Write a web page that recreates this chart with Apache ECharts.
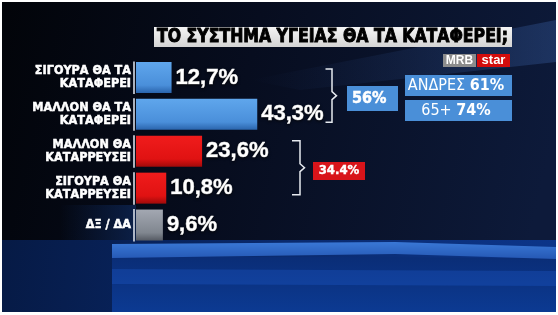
<!DOCTYPE html>
<html>
<head>
<meta charset="utf-8">
<script src="https://cdn.jsdelivr.net/npm/echarts@6/dist/echarts.min.js"></script>
<style>
html,body{margin:0;padding:0;background:#ffffff;}
#chart{width:558px;height:315px;}
</style>
</head>
<body>
<div id="chart"></div>
<script>
// ---- data ----
const categories = [
  'ΣΙΓΟΥΡΑ ΘΑ ΤΑ\nΚΑΤΑΦΕΡΕΙ',
  'ΜΑΛΛΟΝ ΘΑ ΤΑ\nΚΑΤΑΦΕΡΕΙ',
  'ΜΑΛΛΟΝ ΘΑ\nΚΑΤΑΡΡΕΥΣΕΙ',
  'ΣΙΓΟΥΡΑ ΘΑ\nΚΑΤΑΡΡΕΥΣΕΙ',
  'ΔΞ / ΔΑ'
];
const values = [12.7, 43.3, 23.6, 10.8, 9.6];
const groups = ['yes', 'yes', 'no', 'no', 'dk'];
const title = 'ΤΟ ΣΥΣΤΗΜΑ ΥΓΕΙΑΣ ΘΑ ΤΑ ΚΑΤΑΦΕΡΕΙ;';
const totalYes = '56%';
const totalNo = '34.4%';
const demoLabels = ['ΑΝΔΡΕΣ ', '65+ '];
const demoValues = ['61%', '74%'];

// ---- styles ----
const grad = (a, b, c) => new echarts.graphic.LinearGradient(0, 0, 0, 1, [
  {offset: 0, color: a}, {offset: 0.75, color: b}, {offset: 1, color: c}]);
const groupColor = {
  yes: grad('#5fa6ec', '#4a8fda', '#2a64ac'),
  no: grad('#f01c1c', '#e01212', '#a00a0a'),
  dk: grad('#a3a8b2', '#80868f', '#555a63')
};
const BLUE = '#4a8fd8', RED = '#d8141a';
const narrow = "'Liberation Sans Narrow','DejaVu Sans Condensed',sans-serif";

const chart = echarts.init(document.getElementById('chart'), null, {renderer: 'canvas'});

function fitScale(text, font, target) {
  const c = document.createElement('canvas').getContext('2d');
  c.font = font;
  const w = c.measureText(text).width;
  return w > 0 ? target / w : 1;
}

const titleFont = "bold 19px 'Liberation Sans Narrow','DejaVu Sans Condensed',sans-serif";
const titleScale = fitScale(title, titleFont, 351);

const option = {
  animation: false,
  backgroundColor: '#ffffff',
  grid: {left: 136, top: 59, width: 280, height: 184.5, containLabel: false},
  xAxis: {type: 'value', min: 0, max: 100, show: false},
  yAxis: {
    type: 'category', data: categories, inverse: true,
    axisLine: {show: false}, axisTick: {show: false}, splitLine: {show: false},
    axisLabel: {
      color: '#ffffff', fontWeight: 'bold', fontSize: 12.5, lineHeight: 13.5,
      fontFamily: narrow, align: 'right', margin: 5,
      textBorderColor: '#ffffff', textBorderWidth: 0.5
    }
  },
  series: [
    {
      type: 'bar', barWidth: 31, z: 3,
      data: values.map((v, i) => ({value: v, itemStyle: {color: groupColor[groups[i]]}})),
      label: {
        show: true, position: 'right', distance: 4,
        formatter: p => p.value.toFixed(1).replace('.', ',') + '%',
        color: '#ffffff', fontWeight: 'bold', fontSize: 22,
        fontFamily: "'Liberation Sans',Arial,sans-serif",
        textBorderColor: '#ffffff', textBorderWidth: 0.6,
        textShadowColor: 'rgba(0,0,0,0.7)', textShadowBlur: 3, textShadowOffsetY: 1
      }
    },
    {
      type: 'custom', z: 4,
      data: categories.map((c, i) => [0, i]),
      encode: {x: 0, y: 1},
      renderItem: (params, api) => {
        const p = api.coord([0, api.value(1)]);
        return {
          type: 'line',
          shape: {x1: p[0] - 2, y1: p[1] - 16, x2: p[0] - 2, y2: p[1] + 16.5},
          style: {stroke: '#d8dee8', lineWidth: 1.6}
        };
      }
    }
  ]
};
chart.setOption(option);

// positions derived from the category scale
const yc = i => chart.convertToPixel({yAxisIndex: 0}, i);
const bTop = yc(0) - 8.5, bBot = yc(1) + 8, bMid = (bTop + bBot) / 2;
const rTop = yc(2) - 10.5, rBot = yc(3) + 6.5, rMid = (rTop + rBot) / 2;

function brace(x0, x1, top, bot, mid) {
  return {
    type: 'polyline', z: 10,
    shape: {points: [[x0, top], [x1, top], [x1, mid - 4], [x1 + 4.5, mid], [x1, mid + 4], [x1, bot], [x0, bot]]},
    style: {stroke: '#e6eaf0', lineWidth: 1.5, fill: null}
  };
}

const graphics = [
  // background panels
  {type: 'rect', z: -10, shape: {x: 2, y: 2, width: 554, height: 310},
    style: {fill: new echarts.graphic.LinearGradient(0, 0, 1, 0.4, [
      {offset: 0, color: '#020409'}, {offset: 0.45, color: '#070d1f'}, {offset: 1, color: '#0d1a3a'}])}},
  // light streak top right
  {type: 'polygon', z: -9, shape: {points: [[250, 80], [556, 20], [556, 62], [300, 90]]},
    style: {fill: new echarts.graphic.LinearGradient(0, 0, 1, 0, [
      {offset: 0, color: 'rgba(40,70,130,0)'}, {offset: 1, color: 'rgba(60,100,170,0.35)'}])}},
  // dark patch behind the last label
  {type: 'rect', z: -9, shape: {x: 60, y: 205, width: 76, height: 38},
    style: {fill: new echarts.graphic.LinearGradient(0, 0, 1, 0, [
      {offset: 0, color: 'rgba(14,40,90,0)'}, {offset: 1, color: 'rgba(14,40,90,0.7)'}])}},
  // lower blue area
  {type: 'rect', z: -8, shape: {x: 2, y: 240, width: 554, height: 72},
    style: {fill: new echarts.graphic.LinearGradient(0, 0, 1, 1, [
      {offset: 0, color: '#061a45'}, {offset: 0.5, color: '#0a2a6e'}, {offset: 1, color: '#0c358a'}])}},
  {type: 'polygon', z: -7, shape: {points: [[112, 256], [556, 258], [556, 312], [112, 312]]},
    style: {fill: new echarts.graphic.LinearGradient(0, 0, 0, 1, [
      {offset: 0, color: '#0a2d76'}, {offset: 1, color: '#0c3a92'}])}},
  {type: 'polygon', z: -6, shape: {points: [[112, 269], [556, 271], [556, 286], [112, 284]]},
    style: {fill: 'rgba(30,90,200,0.35)'}},
  // bright band
  {type: 'polygon', z: -5, shape: {points: [[112, 244], [395, 242], [556, 247], [556, 259], [395, 254], [112, 258]]},
    style: {fill: new echarts.graphic.LinearGradient(0, 0, 0, 1, [
      {offset: 0, color: '#3a78d6'}, {offset: 1, color: '#2558b4'}])}},
  // title
  {type: 'rect', z: 5, shape: {x: 154, y: 27, width: 358, height: 20},
    style: {fill: new echarts.graphic.LinearGradient(0, 0, 0, 1, [
      {offset: 0, color: '#f4f4f4'}, {offset: 1, color: '#d4d4d4'}])}},
  {type: 'text', z: 6, x: 157, y: 37.5, scaleX: titleScale,
    style: {text: title, font: titleFont, fill: '#000000', verticalAlign: 'middle', align: 'left',
      stroke: '#000000', lineWidth: 0.9}},
  // logo
  {type: 'rect', z: 5, shape: {x: 443, y: 54, width: 33, height: 13}, style: {fill: '#8c8c8c'}},
  {type: 'text', z: 6, x: 459.5, y: 61, style: {text: 'MRB', fill: '#fff',
    font: "bold 12px 'Liberation Sans',sans-serif", align: 'center', verticalAlign: 'middle'}},
  {type: 'rect', z: 5, shape: {x: 477, y: 54, width: 33, height: 13}, style: {fill: '#d40c0c'}},
  {type: 'text', z: 6, x: 493.5, y: 60.5, style: {text: 'star', fill: '#fff',
    font: "bold 13px 'Liberation Sans',sans-serif", align: 'center', verticalAlign: 'middle'}},
  // braces
  brace(325.5, 332, bTop, bBot, bMid),
  brace(292, 300, rTop, rBot, rMid),
  // totals
  {type: 'rect', z: 5, shape: {x: 347, y: 86, width: 51, height: 25}, style: {fill: BLUE}},
  {type: 'text', z: 6, x: 352, y: 98.5, style: {text: totalYes, fill: '#fff',
    font: "bold 16px " + narrow, align: 'left', verticalAlign: 'middle',
    stroke: '#ffffff', lineWidth: 0.5}},
  {type: 'rect', z: 5, shape: {x: 313, y: 162, width: 52, height: 18}, style: {fill: RED}},
  {type: 'text', z: 6, x: 339, y: 171, style: {text: totalNo, fill: '#fff',
    font: "bold 13px " + narrow, align: 'center', verticalAlign: 'middle',
    stroke: '#ffffff', lineWidth: 0.4}}
];
demoLabels.forEach((lab, i) => {
  const y = 75 + i * 25;
  graphics.push({type: 'rect', z: 5, shape: {x: 405, y: y, width: 107, height: 21}, style: {fill: BLUE}});
  graphics.push({type: 'text', z: 6, x: 456, y: y + 10.5, style: {
    text: '{a|' + lab + '}{b|' + demoValues[i] + '}', align: 'center', verticalAlign: 'middle',
    rich: {
      a: {fill: '#fff', fontSize: 16, fontFamily: narrow, fontWeight: 'normal'},
      b: {fill: '#fff', fontSize: 16, fontFamily: narrow, fontWeight: 'bold'}
    }
  }});
});
chart.setOption({graphic: {elements: graphics}});
</script>
</body>
</html>
